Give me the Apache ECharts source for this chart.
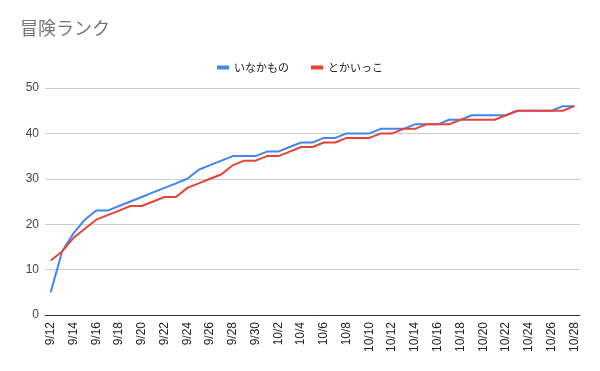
<!DOCTYPE html>
<html>
<head>
<meta charset="utf-8">
<script src="https://cdn.jsdelivr.net/npm/echarts@6/dist/echarts.min.js"></script>
<style>
html,body{margin:0;padding:0;background:#fff;}
#chart{width:600px;height:371px;}
</style>
</head>
<body>
<div id="chart"></div>
<script>
const titleText = "冒険ランク";
const seriesNames = ["いなかもの", "とかいっこ"];
const dates = ["9/12","9/13","9/14","9/15","9/16","9/17","9/18","9/19","9/20","9/21","9/22","9/23","9/24","9/25","9/26","9/27","9/28","9/29","9/30",
  "10/1","10/2","10/3","10/4","10/5","10/6","10/7","10/8","10/9","10/10","10/11","10/12","10/13","10/14","10/15","10/16","10/17","10/18","10/19","10/20","10/21","10/22","10/23","10/24","10/25","10/26","10/27","10/28"];
const inakamono = [5,14,18,21,23,23,24,25,26,27,28,29,30,32,33,34,35,35,35,
  36,36,37,38,38,39,39,40,40,40,41,41,41,42,42,42,43,43,44,44,44,44,45,45,45,45,46,46];
const tokaikko = [12,14,17,19,21,22,23,24,24,25,26,26,28,29,30,31,33,34,34,
  35,35,36,37,37,38,38,39,39,39,40,40,41,41,42,42,42,43,43,43,43,44,45,45,45,45,45,46];
const yTicks = [0,10,20,30,40,50];

const chart = echarts.init(document.getElementById('chart'), null, {renderer:'canvas'});
chart.setOption({
  animation: false,
  backgroundColor: '#ffffff',
  title: {
    text: titleText,
    left: 20, top: 19, padding: 0,
    textStyle: {fontFamily: "'Noto Sans CJK JP', sans-serif", fontSize: 18, fontWeight: 'normal', color: '#757575'}
  },
  legend: {
    data: seriesNames,
    left: 'center', top: 57,
    itemWidth: 12, itemHeight: 4, itemGap: 22,
    icon: 'rect',
    textStyle: {fontFamily: "'Noto Sans CJK JP', sans-serif", fontSize: 11, color: '#222222'}
  },
  grid: {left: 45, right: 20, top: 88, bottom: 56, containLabel: false},
  xAxis: {
    type: 'category',
    data: dates,
    boundaryGap: true,
    axisLine: {show: true, lineStyle: {color: '#333333', width: 1}},
    axisTick: {show: false},
    axisLabel: {interval: 1, rotate: 90, margin: 7, fontFamily: "'Liberation Sans', Arial, sans-serif", fontSize: 12, color: '#222222'},
    splitLine: {show: false}
  },
  yAxis: {
    type: 'value',
    min: yTicks[0], max: yTicks[yTicks.length-1], interval: 10,
    axisLine: {show: false},
    axisTick: {show: false},
    axisLabel: {margin: 6, fontFamily: "'Liberation Sans', Arial, sans-serif", fontSize: 12, color: '#444444'},
    splitLine: {show: true, lineStyle: {color: '#cccccc', width: 1}}
  },
  series: [
    {name: seriesNames[0], type: 'line', data: inakamono, showSymbol: false, symbol: 'none',
     lineStyle: {color: '#4285F4', width: 2}, itemStyle: {color: '#4285F4'}},
    {name: seriesNames[1], type: 'line', data: tokaikko, showSymbol: false, symbol: 'none',
     lineStyle: {color: '#EA4335', width: 2}, itemStyle: {color: '#EA4335'}}
  ]
});
</script>
</body>
</html>
